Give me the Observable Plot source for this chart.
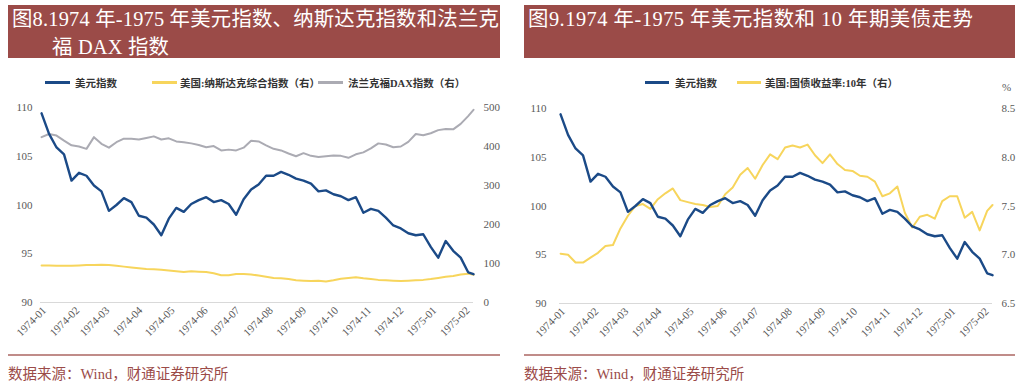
<!DOCTYPE html>
<html>
<head>
<meta charset="utf-8">
<script src="https://cdn.jsdelivr.net/npm/d3@7"></script>
<script src="https://cdn.jsdelivr.net/npm/@observablehq/plot@0.6"></script>
<style>
  body { margin:0; width:1024px; height:391px; position:relative; background:#fff; overflow:hidden;
         font-family:"Liberation Serif","Noto Sans CJK SC",serif; }
  .title { position:absolute; top:5px; height:53px; background:#9B4B48; color:#fff; font-size:20.4px;
           line-height:28px; box-sizing:border-box; padding:0 0 0 4px; white-space:nowrap; }
  .legend { position:absolute; top:75px; font-size:10.5px; font-weight:bold; color:#333; white-space:nowrap; }
  .sw { position:absolute; height:2.5px; top:81px; }
  .chart { position:absolute; top:95px; }
  .sep { position:absolute; top:354px; height:2px; background:#C08C89; }
  .src { position:absolute; top:362px; font-size:14.5px; color:#9B4B48; white-space:nowrap; }
  .unit { position:absolute; top:81px; font-size:11px; color:#595959; }
</style>
</head>
<body>
<div class="title" style="left:8px;width:492px;letter-spacing:0.2px;">图8.1974 年-1975 年美元指数、纳斯达克指数和法兰克<br><span style="padding-left:40px">福 DAX 指数</span></div>
<div class="title" style="left:524px;width:491px;letter-spacing:0.5px;">图9.1974 年-1975 年美元指数和 10 年期美债走势</div>

<div class="sw" style="left:45px;width:25px;background:#1B4A87"></div>
<div class="legend" style="left:75px">美元指数</div>
<div class="sw" style="left:152px;width:25px;background:#F7D55C"></div>
<div class="legend" style="left:180px">美国:纳斯达克综合指数（右）</div>
<div class="sw" style="left:318px;width:25px;background:#ABABB3"></div>
<div class="legend" style="left:348px">法兰克福DAX指数（右）</div>

<div class="sw" style="left:645px;width:24px;background:#1B4A87"></div>
<div class="legend" style="left:675px">美元指数</div>
<div class="sw" style="left:737px;width:24px;background:#F7D55C"></div>
<div class="legend" style="left:765px">美国:国债收益率:10年（右）</div>
<div class="unit" style="left:1002px">%</div>

<div id="c1" class="chart" style="left:0px"></div>
<div id="c2" class="chart" style="left:512px"></div>

<div class="sep" style="left:8px;width:492px"></div>
<div class="sep" style="left:524px;width:491px"></div>
<div class="src" style="left:8px">数据来源：Wind，财通证券研究所</div>
<div class="src" style="left:524px">数据来源：Wind，财通证券研究所</div>

<script>
// Weekly observation dates
const dates = [
  "1974-01-02","1974-01-09","1974-01-16","1974-01-23","1974-01-30",
  "1974-02-06","1974-02-13","1974-02-20","1974-02-27",
  "1974-03-06","1974-03-13","1974-03-20","1974-03-27",
  "1974-04-03","1974-04-10","1974-04-17","1974-04-24",
  "1974-05-01","1974-05-08","1974-05-15","1974-05-22","1974-05-29",
  "1974-06-05","1974-06-12","1974-06-19","1974-06-26",
  "1974-07-03","1974-07-10","1974-07-17","1974-07-24","1974-07-31",
  "1974-08-07","1974-08-14","1974-08-21","1974-08-28",
  "1974-09-04","1974-09-11","1974-09-18","1974-09-25",
  "1974-10-02","1974-10-09","1974-10-16","1974-10-23","1974-10-30",
  "1974-11-06","1974-11-13","1974-11-20","1974-11-27",
  "1974-12-04","1974-12-11","1974-12-18","1974-12-25",
  "1975-01-01","1975-01-08","1975-01-15","1975-01-22","1975-01-29",
  "1975-02-05","1975-02-10"
];
// 美元指数
const usdIndex = [
  109.4,107.3,105.9,105.2,102.5,103.3,103.0,102.0,101.4,99.4,
  100.0,100.7,100.3,98.9,98.7,98.0,96.9,98.6,99.7,99.3,
  100.1,100.5,100.8,100.3,100.5,100.1,99.0,100.6,101.6,102.1,
  103.0,103.0,103.4,103.1,102.7,102.5,102.2,101.4,101.5,101.1,
  100.9,100.5,100.8,99.2,99.6,99.4,98.7,97.9,97.6,97.1,
  96.9,97.0,95.7,94.6,96.3,95.3,94.6,93.1,92.9
];
// 美国:纳斯达克综合指数（右）
const nasdaq = [
  95,95,94,94,94,95,96,96,97,96,
  94,92,90,88,86,85,84,82,80,78,
  80,79,78,75,70,70,73,73,72,69,
  66,63,62,60,57,56,55,56,54,57,
  61,63,65,62,60,58,57,56,55,56,
  57,58,60,63,66,68,72,74,71
];
// 法兰克福DAX指数（右）
const dax = [
  424,432,428,415,403,400,394,424,407,397,
  411,420,420,418,422,426,418,421,413,411,
  408,404,398,401,390,392,390,397,415,413,
  403,394,390,382,375,383,376,373,375,377,
  376,371,380,385,395,408,405,398,400,412,
  432,429,434,442,445,444,458,478,494
];
// 美国:国债收益率:10年（右）
const ust10y = [
  7.01,7.00,6.92,6.92,6.97,7.02,7.09,7.10,7.27,7.40,
  7.50,7.52,7.47,7.57,7.63,7.68,7.56,7.54,7.52,7.51,
  7.49,7.50,7.62,7.69,7.82,7.89,7.78,7.92,8.03,7.98,
  8.10,8.12,8.10,8.13,8.02,7.94,8.03,7.93,7.87,7.86,
  7.81,7.80,7.75,7.60,7.63,7.70,7.43,7.28,7.39,7.41,
  7.37,7.55,7.60,7.60,7.38,7.44,7.25,7.45,7.51
];
const leftTicks = [90, 95, 100, 105, 110];
const rightTicks1 = [0, 100, 200, 300, 400, 500];
const rightTicks2 = [6.5, 7.0, 7.5, 8.0, 8.5];
const monthTicks = ["1974-01","1974-02","1974-03","1974-04","1974-05","1974-06","1974-07",
                    "1974-08","1974-09","1974-10","1974-11","1974-12","1975-01","1975-02"];

const blue = "#1B4A87", yellow = "#F7D55C", gray = "#ABABB3";
const parse = d3.utcParse("%Y-%m-%d");
const T = dates.map(parse);
const xDomain = [parse("1974-01-01"), parse("1975-02-10")];
const monthDates = monthTicks.map(m => parse(m + "-01"));
const fmtMonth = d3.utcFormat("%Y-%m");

const rows = T.map((t, i) => ({t, usd: usdIndex[i], nas: nasdaq[i], dax: dax[i], ust: ust10y[i]}));

// map secondary axes onto the primary 90–110 scale
const map1 = v => 90 + (v - 0) / 500 * 20;
const inv1 = y => (y - 90) / 20 * 500;
const map2 = v => 90 + (v - 6.5) / 2 * 20;
const inv2 = y => 6.5 + (y - 90) / 20 * 2;

const style = {fontFamily: '"Liberation Serif","Noto Sans CJK SC",serif', fontSize: "11px", color: "#595959", background: "transparent", overflow: "visible"};

function xAxis() {
  return Plot.axisX(monthDates, {tickFormat: fmtMonth, tickRotate: -45, tickSize: 0, tickPadding: 6, label: null, dx: 4});
}

const p1 = Plot.plot({
  width: 510, height: 255,
  marginLeft: 40, marginRight: 37, marginTop: 12, marginBottom: 48,
  style,
  x: {type: "utc", domain: xDomain},
  y: {domain: [90, 110]},
  marks: [
    Plot.ruleY([90], {stroke: "#D9D9D9", strokeWidth: 1}),
    Plot.axisY(leftTicks, {tickSize: 0, tickPadding: 8, label: null}),
    Plot.axisY(rightTicks1.map(map1), {anchor: "right", tickSize: 0, tickPadding: 10, label: null, tickFormat: d => Math.round(inv1(d))}),
    xAxis(),
    Plot.line(rows, {x: "t", y: d => map1(d.dax), stroke: gray, strokeWidth: 2}),
    Plot.line(rows, {x: "t", y: d => map1(d.nas), stroke: yellow, strokeWidth: 2}),
    Plot.line(rows, {x: "t", y: "usd", stroke: blue, strokeWidth: 2.4})
  ]
});
document.getElementById("c1").append(p1);

const p2 = Plot.plot({
  width: 512, height: 255,
  marginLeft: 47, marginRight: 32, marginTop: 13, marginBottom: 47,
  style,
  x: {type: "utc", domain: xDomain},
  y: {domain: [90, 110]},
  marks: [
    Plot.ruleY([90], {stroke: "#D9D9D9", strokeWidth: 1}),
    Plot.axisY(leftTicks, {tickSize: 0, tickPadding: 13, label: null}),
    Plot.axisY(rightTicks2.map(map2), {anchor: "right", tickSize: 0, tickPadding: 9, label: null, tickFormat: d => d3.format(".1f")(inv2(d))}),
    xAxis(),
    Plot.line(rows, {x: "t", y: d => map2(d.ust), stroke: yellow, strokeWidth: 2}),
    Plot.line(rows, {x: "t", y: "usd", stroke: blue, strokeWidth: 2.4})
  ]
});
document.getElementById("c2").append(p2);
</script>
</body>
</html>
